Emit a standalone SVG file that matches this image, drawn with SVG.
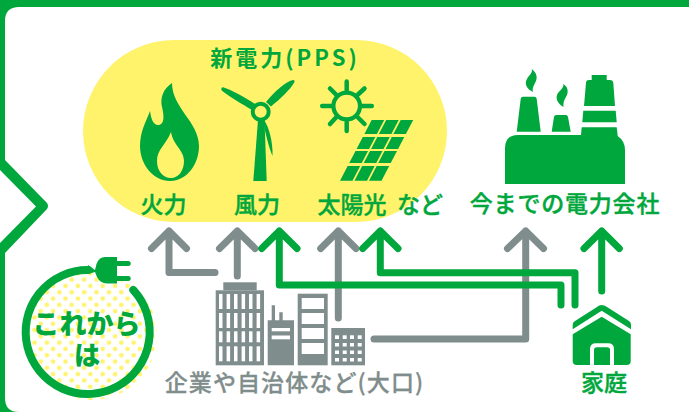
<svg xmlns="http://www.w3.org/2000/svg" width="689" height="412" viewBox="0 0 689 412">
<style>
.g{fill:#00a73c}
.a{fill:none;stroke-width:7;stroke-linecap:round;stroke-linejoin:round}
.ag{stroke:#7f8d8c}
.ay{stroke:#00a73c}
.w{fill:#fff}
.b{fill:#7f8d8c}
text{font-family:"Noto Sans CJK JP","Noto Sans",sans-serif;font-weight:500;font-size:23px;text-anchor:middle}
.tg{fill:#00a73c;stroke:#00a73c;stroke-width:0.4}
.tb{fill:#7f8d8c;stroke:#7f8d8c;stroke-width:0.3}
</style>
<defs>
<pattern id="dots" width="12.4" height="12.6" patternUnits="userSpaceOnUse" x="57" y="340.400">
<rect width="12.4" height="12.6" fill="#fff"/>
<circle cx="2.300" cy="2.300" r="2.300" fill="#fff36b"/>
<circle cx="8.500" cy="8.600" r="2.300" fill="#fff36b"/>
</pattern>
</defs>
<g id="frame">
<rect class="g" width="689" height="412"/>
<path class="w" d="M689,7H19Q5,7 5,21V160L47,203Q49,206 47,209L5,253V398Q5,412 19,412H689Z"/>
<path class="w" d="M0,170L36,206.500L0,243Z"/>
</g>
<g id="pps">
<rect x="83" y="40" width="364" height="182" rx="91" fill="#fff36b"/>
<text class="tg" x="285" y="66" style="font-size:22px;font-weight:700;stroke-width:0" letter-spacing="3">新電力(PPS)</text>
</g>
<g id="fire">
<path class="g" d="M172,83C163,89 160,98 162,107C164,115 165,125 158,125C153,125 151,118 150,111C146,122 140,131 140,146C140,165 154,181 170,181C187,181 199,164 199,146C199,122 172,108 172,83Z"/>
<path d="M171,132C166,145 157,149 157,161C157,171 163,178 171,178C179,178 184,170 184,161C184,150 173,145 171,132Z" fill="#fff36b"/>
<text class="tg" x="163.500" y="212.500">火力</text>
</g>
<g id="wind">
<path class="g" d="M253.300,181L258,120H264.500L266.700,181Z"/>
<path class="g" d="M264,120C269,127 273,142 272.500,156C269,148 266,135 263,122Z"/>
<path class="g" d="M223,87.300C232,90 244,97 255,104L252,110C242,104 230,97 221.700,90.500Q220.500,87.500 223,87.300Z"/>
<path class="g" d="M293,80C285,82 275,91 266,102L271,106.500C280,99 290,90 294.500,82Q295,80 293,80Z"/>
<circle cx="260.700" cy="111.700" r="8" fill="#fff36b" stroke="#00a73c" stroke-width="4"/>
<text class="tg" x="257" y="212.500">風力</text>
</g>
<g id="solar">
<circle cx="346.700" cy="106" r="13.300" fill="none" stroke="#00a73c" stroke-width="4.200"/>
<path class="a ay" style="stroke-width:4.500" d="M346.700,81.500V90M346.700,122V131M322.200,106H331M362,106H371.800M330,88.500L336,94.500M364.500,88.500L358,94.500M330,124L336,117.500M358,117.500L364.500,124"/>
<g class="g" transform="matrix(1 0 -0.522 1 340 180.700)">
<rect x="0" y="-60.700" width="12.500" height="14"/><rect x="14.500" y="-60.700" width="12.500" height="14"/><rect x="29" y="-60.700" width="12.500" height="14"/>
<rect x="0" y="-43.700" width="12.500" height="12"/><rect x="14.500" y="-43.700" width="12.500" height="12"/><rect x="29" y="-43.700" width="12.500" height="12"/>
<rect x="0" y="-29.700" width="12.500" height="12"/><rect x="14.500" y="-29.700" width="12.500" height="12"/><rect x="29" y="-29.700" width="12.500" height="12"/>
<rect x="0" y="-14.700" width="12.500" height="14.700"/><rect x="14.500" y="-14.700" width="12.500" height="14.700"/><rect x="29" y="-14.700" width="12.500" height="14.700"/>
</g>
<text class="tg" x="352" y="212.500">太陽光</text>
<text class="tg" x="420" y="212.500">など</text>
</g>
<g id="plant">
<path class="g" d="M505,184V148Q505,135 518,135H581L581.700,127.300H616.700L617.700,136Q625,141 625,150V184Z"/>
<path class="g" d="M583.300,110.700H615.700L616.700,122.300H582.300Z"/>
<path class="g" d="M584,106L586,83Q586,80 589,80H591.700V75H606.700V80H610Q613,80 613.300,83L615,106Z"/>
<path class="g" d="M516.700,131.700L520.700,99Q521,96.700 523,96.700H534.500Q536.500,96.700 536.700,99L540.700,131.700Z"/>
<path class="g" d="M551.700,131.700L554,117Q554.500,115 556,115H566Q567.500,115 568,117L570.700,131.700Z"/>
<path class="g" d="M531.700,69C537,73 538,78 535,83C533,87 532,89 533,92C527,89 524,84 527,79C529,75 533,73 531.700,69Z"/>
<path class="g" d="M563.300,84C568,87 569,92 566,97C564,100 563,103 563.500,107C558,104 554.500,98 558,93C560,90 564,88 563.300,84Z"/>
<text class="tg" x="565" y="211.500" letter-spacing="0.800">今までの電力会社</text>
</g>
<g id="connectors">
<path class="a ag" d="M151.500,248.500L169,231L186.500,248.500M169,231V272.500H215"/>
<path class="a ag" d="M219.500,248.500L237.300,231L255,248.500M237.300,231V276"/>
<path class="a ag" d="M320.700,248.500L338.300,231L356,248.500M338.300,231V318"/>
<path class="a ag" d="M507.500,248.500L525.700,231L543.500,248.500M525.700,231V339H374"/>
<path class="a ay" d="M261.700,248.500L279.300,231L297,248.500M279.300,231V285H561V305"/>
<path class="a ay" d="M362.700,248.500L380.300,231L398,248.500M380.300,231V272.700H575V305"/>
<path class="a ay" d="M584,248.500L601.700,231L619.300,248.500M601.700,231V291"/>
</g>
<g id="office">
<rect class="b" x="215.700" y="290.300" width="48.300" height="75"/>
<rect class="b" x="223.300" y="282.300" width="33.400" height="8"/>
<g class="w">
<rect x="219" y="294" width="3.500" height="15"/><rect x="226.600" y="294" width="3.500" height="15"/><rect x="234" y="294" width="3.500" height="15"/><rect x="241.600" y="294" width="3.500" height="15"/><rect x="249" y="294" width="3.500" height="15"/><rect x="256.600" y="294" width="3.500" height="15"/>
<rect x="219" y="313" width="3.500" height="15"/><rect x="226.600" y="313" width="3.500" height="15"/><rect x="234" y="313" width="3.500" height="15"/><rect x="241.600" y="313" width="3.500" height="15"/><rect x="249" y="313" width="3.500" height="15"/><rect x="256.600" y="313" width="3.500" height="15"/>
<rect x="219" y="331.300" width="3.500" height="11"/><rect x="226.600" y="331.300" width="3.500" height="11"/><rect x="234" y="331.300" width="3.500" height="11"/><rect x="241.600" y="331.300" width="3.500" height="11"/><rect x="249" y="331.300" width="3.500" height="11"/><rect x="256.600" y="331.300" width="3.500" height="11"/>
<rect x="219" y="346.300" width="3.500" height="15"/><rect x="226.600" y="346.300" width="3.500" height="15"/><rect x="234" y="346.300" width="3.500" height="15"/><rect x="241.600" y="346.300" width="3.500" height="15"/><rect x="249" y="346.300" width="3.500" height="15"/><rect x="256.600" y="346.300" width="3.500" height="15"/>
</g>
<path class="b" d="M267.700,320.300H271.700V305.300H275V320.300H279.300V312.300H282.700V320.300H294V365.300H267.700Z"/>
<rect class="w" x="271.700" y="328" width="18.300" height="3.300"/>
<rect class="w" x="271.700" y="335.500" width="18.300" height="3.800"/>
<rect class="b" x="297.700" y="293.700" width="30" height="71.600"/>
<g class="w"><rect x="301.700" y="298" width="22.300" height="11"/><rect x="301.700" y="313" width="22.300" height="11"/><rect x="301.700" y="328" width="22.300" height="11"/><rect x="301.700" y="343" width="22.300" height="11"/></g>
<rect class="b" x="331.300" y="328" width="33.700" height="37.300"/>
<g class="w">
<rect x="335" y="335.300" width="4" height="3.700"/><rect x="342.700" y="335.300" width="4" height="3.700"/><rect x="350" y="335.300" width="4" height="3.700"/><rect x="357.700" y="335.300" width="4" height="3.700"/>
<rect x="335" y="343" width="4" height="3.500"/><rect x="342.700" y="343" width="4" height="3.500"/><rect x="350" y="343" width="4" height="3.500"/><rect x="357.700" y="343" width="4" height="3.500"/>
<rect x="335" y="350.500" width="4" height="3.500"/><rect x="342.700" y="350.500" width="4" height="3.500"/><rect x="350" y="350.500" width="4" height="3.500"/><rect x="357.700" y="350.500" width="4" height="3.500"/>
<rect x="335" y="358" width="4" height="3.500"/><rect x="342.700" y="358" width="4" height="3.500"/><rect x="350" y="358" width="4" height="3.500"/><rect x="357.700" y="358" width="4" height="3.500"/>
</g>
<text class="tb" x="294.500" y="391" letter-spacing="1.100">企業や自治体など(大口)</text>
</g>
<g id="home">
<path class="g" d="M601.700,305Q604,305 607,307L629,321Q631,322 631,325V329.300L601.700,310.700L572.700,329.300V325Q572.700,322 575,321L597,307Q599,305 601.700,305Z"/>
<path class="g" d="M601.700,316.700L630.700,334.300V361Q630.700,365 626.700,365H576.700Q572.700,365 572.700,361V334.300Z"/>
<path class="w" d="M590,365V349Q590,343.300 596,343.300H608Q614,343.300 614,349V365Z"/>
<path class="g" d="M594,365V350Q594,347.300 597,347.300H607Q610,347.300 610,350V365Z"/>
<text class="tg" x="604" y="391">家庭</text>
</g>
<g id="korekara">
<circle cx="92" cy="335" r="65" fill="url(#dots)"/>
<path d="M88,270A62,62 0 1 0 133.300,290" fill="none" stroke="#00a73c" stroke-width="8" stroke-linecap="round"/>
<path class="g" d="M88,265L95,270L96.500,264Q99,257 105,257H117V283.500H107Q100,283 97,277L95,272L88,274Z"/>
<rect class="g" x="115" y="261" width="15.700" height="5" rx="2.500"/>
<rect class="g" x="115" y="276" width="15.700" height="5" rx="2.500"/>
<text class="tg" style="font-size:27px;font-weight:900;stroke-width:0" x="86.500" y="333.500">これから</text>
<text class="tg" style="font-size:26px;font-weight:900;stroke-width:0" x="87" y="364.500">は</text>
</g>
</svg>
